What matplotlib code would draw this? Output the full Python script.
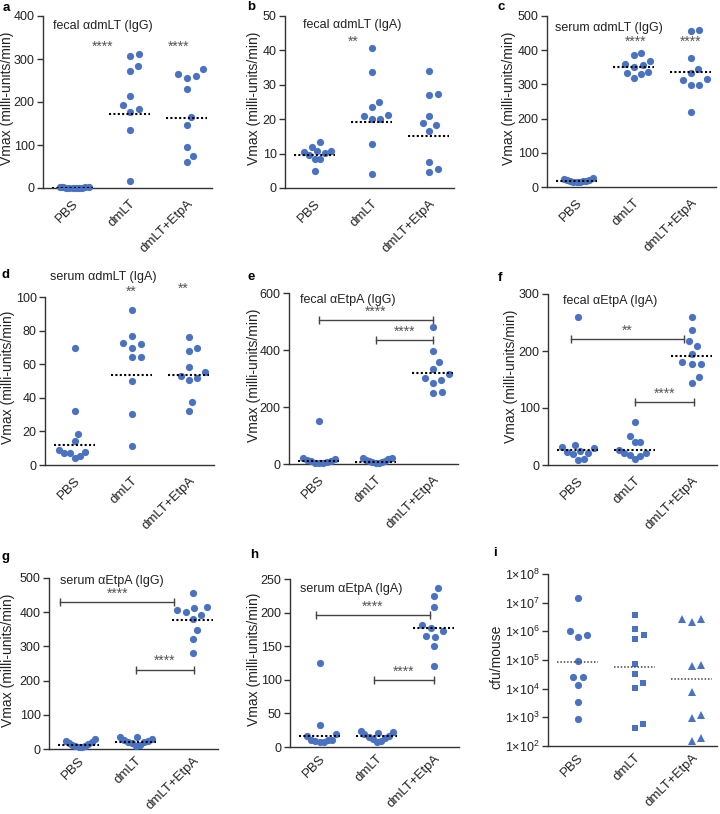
import numpy as np
import matplotlib
matplotlib.use("Agg")
import matplotlib.pyplot as plt
from matplotlib.transforms import ScaledTranslation

plt.rcParams["font.family"] = ["Liberation Sans", "DejaVu Sans"]
plt.rcParams["mathtext.fontset"] = "custom"
plt.rcParams["mathtext.rm"] = "Liberation Sans"
plt.rcParams["mathtext.it"] = "Liberation Sans"

W, H = 720, 814
GROUPS = ["PBS", "dmLT", "dmLT+EtpA"]
BLUE = "#4a72c2"

# values, one list per group: PBS, dmLT, dmLT+EtpA
FECAL_LT_IGG = [[0.5, 1, 1.5, 0.8, 1.2, 2, 0.6, 1, 1.4, 0.9],
                [312, 306, 284, 272, 215, 192, 177, 183, 134, 17],
                [265, 256, 260, 276, 231, 165, 146, 96, 75, 60]]
FECAL_LT_IGG_MED = [1, 172, 162]

FECAL_LT_IGA = [[13.3, 12.0, 10.8, 10.3, 10.9, 10.6, 9.5, 8.5, 8.4, 5.0],
                [40.6, 33.7, 25.1, 23.6, 21.0, 20.2, 20.1, 21.2, 12.9, 4.0],
                [34.1, 27.2, 27.1, 20.9, 18.8, 16.6, 18.4, 7.6, 4.6, 5.6]]
FECAL_LT_IGA_MED = [9.7, 19.3, 15.1]

SERUM_LT_IGG = [[17, 19, 22, 16, 15, 18, 25, 20, 14, 21],
                [367, 385, 356, 392, 359, 350, 337, 332, 320, 329],
                [455, 459, 378, 345, 332, 315, 312, 298, 297, 218]]
SERUM_LT_IGG_MED = [18, 351, 336]

SERUM_LT_IGA = [[69.4, 32.0, 18.7, 14.3, 7.4, 8.0, 8.7, 7.3, 4.4, 5.6],
                [92.2, 76.5, 72.2, 72.6, 69.8, 64.4, 64.0, 50.1, 30.2, 11.3],
                [76.3, 69.4, 67.8, 58.6, 55.1, 51.9, 50.5, 53.1, 37.4, 32.2]]
SERUM_LT_IGA_MED = [12.1, 53.3, 53.5]

FECAL_ETPA_IGG = [[152, 21, 18, 15, 12, 9, 7, 5, 4, 3],
                  [21, 22, 18, 13, 10, 9, 7, 6, 5, 3],
                  [481, 398, 359, 334, 303, 315, 284, 295, 250, 251]]
FECAL_ETPA_IGG_MED = [10, 8, 320]

FECAL_ETPA_IGA = [[260, 35.7, 31.6, 29.8, 24.6, 21, 19.9, 22, 9.9, 8.8],
                  [76, 51.5, 40.4, 39.8, 17.5, 20.5, 26.3, 21, 15.8, 10],
                  [259, 237, 217.5, 209, 195, 178, 177, 180, 154, 143]]
FECAL_ETPA_IGA_MED = [27, 27, 192]

SERUM_ETPA_IGG = [[29, 22, 20, 19, 15, 13, 10, 8, 6, 5],
                  [36, 35, 28, 25, 23, 21, 20, 18, 12, 9],
                  [456, 414, 413, 406, 400, 391, 380, 347, 322, 282]]
SERUM_ETPA_IGG_MED = [12, 20.5, 377]

SERUM_ETPA_IGA = [[125, 32.7, 19.3, 15.8, 10.9, 8.9, 6.9, 7.9, 10.8, 11.0],
                  [24, 22.3, 20.8, 19.3, 16.8, 15, 13.9, 11.9, 9.4, 7.4],
                  [237, 224, 209, 181, 177, 173, 164, 165, 150, 120]]
SERUM_ETPA_IGA_MED = [15.8, 15.8, 177]

CFU = [[1.4e7, 1.0e6, 6.5e5, 7.2e5, 9.5e4, 2.5e4, 2.5e4, 1.3e4, 3.4e3, 870],
       [3.8e6, 1.2e6, 7.6e5, 5.5e5, 7.4e4, 3.2e4, 1.55e4, 1.05e4, 415, 590],
       [2.6e6, 2.2e6, 2.6e6, 6.8e4, 6.4e4, 7.6e3, 1.25e3, 960, 154, 196]]
CFU_MED = [8.2e4, 5.5e4, 2.2e4]

YLAB = "Vmax (milli-units/min)"

# letter, data, medians, left px, top px, bottom px, ylim, tick step, label gap px,
# title (text, x, y), stars, brackets
PANELS = [
    ("a", FECAL_LT_IGG, FECAL_LT_IGG_MED, 43, 16, 188, 400, 100, 29,
     ("fecal \u03b1dmLT (IgG)", 53, 26), [(0.52, 329, "****"), (1.86, 329, "****")], []),
    ("b", FECAL_LT_IGA, FECAL_LT_IGA_MED, 285, 16, 188, 50, 10, 24,
     ("fecal \u03b1dmLT (IgA)", 303, 25), [(0.68, 42.5, "**")], []),
    ("c", SERUM_LT_IGG, SERUM_LT_IGG_MED, 547, 16, 187, 500, 100, 31,
     ("serum \u03b1dmLT (IgG)", 555, 28), [(1.03, 425, "****"), (2.0, 425, "****")], []),
    ("d", SERUM_LT_IGA, SERUM_LT_IGA_MED, 45, 297, 465, 100, 20, 30,
     ("serum \u03b1dmLT (IgA)", 50, 277), [(1.0, 103, "**"), (1.91, 105, "**")], []),
    ("e", FECAL_ETPA_IGG, FECAL_ETPA_IGG_MED, 289, 293, 464, 600, 200, 28,
     ("fecal \u03b1EtpA (IgG)", 300, 300), [], [(0, 2, 506, "****"), (1, 2, 434, "****")]),
    ("f", FECAL_ETPA_IGA, FECAL_ETPA_IGA_MED, 548, 294, 465, 300, 100, 30,
     ("fecal \u03b1EtpA (IgA)", 563, 301), [], [(-0.12, 1.86, 221, "**"), (1.0, 2.05, 110, "****")]),
    ("g", SERUM_ETPA_IGG, SERUM_ETPA_IGG_MED, 49, 578, 749, 500, 100, 34,
     ("serum \u03b1EtpA (IgG)", 60, 581), [], [(-0.32, 1.67, 429, "****"), (1.0, 2.03, 232, "****")]),
    ("h", SERUM_ETPA_IGA, SERUM_ETPA_IGA_MED, 290, 579, 747, 250, 50, 29,
     ("serum \u03b1EtpA (IgA)", 300, 589), [], [(-0.07, 1.93, 196.5, "****"), (0.95, 2.0, 99.5, "****")]),
]
LETTER_POS = {"a": (3, 8), "b": (247, 7), "c": (497, 7), "d": (2, 275), "e": (247, 277),
              "f": (498, 278), "g": (2, 557), "h": (250, 555), "i": (493, 553)}

XL, XR, STEP = -0.52, 2.45, 57.0


def swarm(ax, x0, vals, d=9.5, wmax=16.0):
    pts = ax.transData.transform(np.column_stack([np.full(len(vals), x0), vals]))
    ys = pts[:, 1]
    order = np.argsort(ys)
    cand = [0.0]
    for k in range(1, 200):
        cand += [k * 0.5, -k * 0.5]
    off = np.zeros(len(vals))
    placed = []
    for i in order:
        for dx in cand:
            if all((dx - px) ** 2 + (ys[i] - py) ** 2 >= d * d for px, py in placed):
                break
        off[i] = dx
        placed.append((dx, ys[i]))
    m = np.abs(off).max()
    if m > wmax:
        off *= wmax / m
    ppu = ax.transData.transform([(1, 0)])[0, 0] - ax.transData.transform([(0, 0)])[0, 0]
    return x0 + off / ppu


def make_axes(fig, left, top, bottom):
    wpx = (XR - XL) * STEP
    ax = fig.add_axes([left / W, 1 - bottom / H, wpx / W, (bottom - top) / H])
    for s in ("top", "right"):
        ax.spines[s].set_visible(False)
    for s in ("left", "bottom"):
        ax.spines[s].set_color("#333")
        ax.spines[s].set_linewidth(1.0)
    ax.set_xlim(XL, XR)
    ax.set_xticks(range(3))
    ax.set_xticklabels(GROUPS, rotation=45, ha="right", rotation_mode="anchor", fontsize=9.5, color="#222")
    shift = ScaledTranslation(5 / 100, 0, fig.dpi_scale_trans)
    for lab in ax.get_xticklabels():
        lab.set_transform(lab.get_transform() + shift)
    ax.tick_params(axis="x", length=0, pad=7 if bottom < 600 else 4)
    ax.tick_params(axis="y", length=4, width=1, color="#333", labelsize=9, labelcolor="#222", pad=2)
    return ax, wpx


fig = plt.figure(figsize=(W / 100, H / 100), dpi=100)

for (let, data, med, left, top, bottom, ymax, ystep, gap, title, stars, brackets) in PANELS:
    ax, wpx = make_axes(fig, left, top, bottom)
    ax.set_ylim(0, ymax)
    ax.set_yticks(np.arange(0, ymax + 1, ystep))
    ax.set_ylabel(YLAB, fontsize=10, color="#222")
    ax.yaxis.set_label_coords(-gap / wpx, 0.52)
    for g, vals in enumerate(data):
        xs = swarm(ax, g, vals)
        ax.plot(xs, vals, "o", ms=5.2, mew=0, color=BLUE, clip_on=False, zorder=3)
        ax.plot([g - 0.36, g + 0.36], [med[g], med[g]], ls=(0, (1, 1.1)), color="k", lw=1.5, zorder=4)
    for x, y, t in stars:
        ax.text(x, y, t, ha="center", va="center", fontsize=10, color="#555")
    for x1, x2, y, t in brackets:
        ax.plot([x1, x2], [y, y], color="#444", lw=1.0, marker="|", ms=6, mew=1.0, clip_on=False)
        ax.annotate(t, ((x1 + x2) / 2, y), xytext=(0, 1), textcoords="offset points",
                    ha="center", va="bottom", fontsize=10, color="#555")
    fig.text(title[1] / W, 1 - title[2] / H, title[0], fontsize=9, color="#222", va="center", ha="left")

# panel i, log scale cfu
ax, wpx = make_axes(fig, 548, 574, 746)
ax.set_yscale("log")
ax.set_ylim(1e2, 1e8)
ax.set_yticks([10.0 ** e for e in range(2, 9)])
ax.set_yticklabels(["1\u00d710$^{%d}$" % e for e in range(2, 9)])
ax.tick_params(axis="y", which="minor", length=2, width=0.8, color="#333")
ax.set_ylabel("cfu/mouse", fontsize=10, color="#222")
ax.yaxis.set_label_coords(-45 / wpx, 0.52)
for g, (vals, mk, ms) in enumerate(zip(CFU, ["o", "s", "^"], [5.2, 5.0, 5.6])):
    xs = swarm(ax, g, vals)
    ax.plot(xs, vals, mk, ms=ms, mew=0, color=BLUE, clip_on=False, zorder=3)
    ax.plot([g - 0.36, g + 0.36], [CFU_MED[g], CFU_MED[g]], ls=(0, (1, 1.2)), color="#444", lw=1.1, zorder=4)

for let, (x, y) in LETTER_POS.items():
    fig.text(x / W, 1 - y / H, let, fontsize=9.5, fontweight="bold", va="center", ha="left")

fig.savefig("out.png", dpi=100)
